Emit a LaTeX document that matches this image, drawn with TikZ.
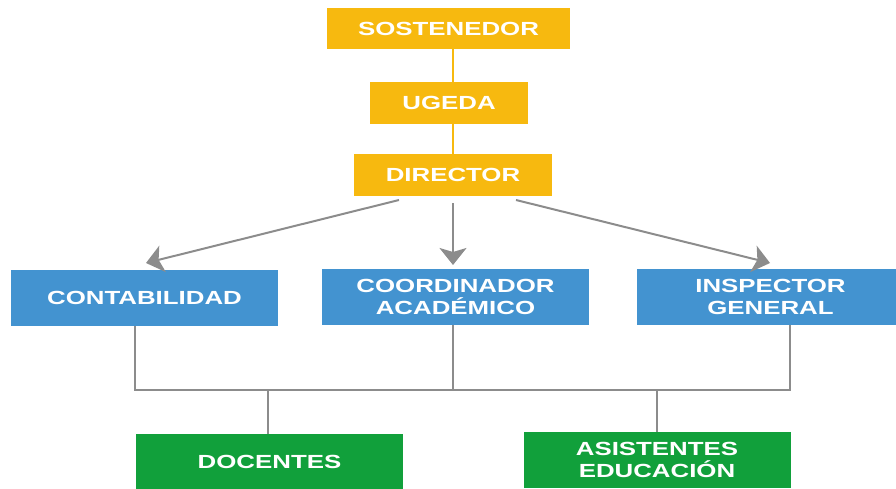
\documentclass[tikz,border=0pt]{standalone}
\usepackage{fontspec}
\setmainfont{Liberation Sans}
\newfontfamily\wideA{Liberation Sans}[FakeStretch=1.36]
\usetikzlibrary{arrows.meta}
\definecolor{ylw}{HTML}{F7B90F}
\definecolor{blu}{HTML}{4393D0}
\definecolor{grn}{HTML}{11A03B}
\definecolor{gry}{HTML}{8C8C8C}
\begin{document}
\begin{tikzpicture}[x=1pt,y=-1pt,
  box/.style={rectangle, inner sep=0pt, text=white, align=center,
    font=\wideA\bfseries\fontsize{19}{22.5}\selectfont},
  ybox/.style={box, fill=ylw},
  bbox/.style={box, fill=blu, minimum width=267pt, minimum height=56pt},
  gbox/.style={box, fill=grn, minimum width=267pt, minimum height=56pt},
  yline/.style={draw=ylw, line width=2pt},
  arr/.style={draw=gry, line width=2pt, -{Stealth[length=17pt,width=27pt,inset=4pt]}},
  bus/.style={draw=gry, line width=2.2pt}]
\useasboundingbox (0,0) rectangle (896,489);

% yellow chain
\node[ybox, minimum width=243pt, minimum height=41pt] (sost) at (448.5,28.5) {SOSTENEDOR};
\node[ybox, minimum width=158pt, minimum height=42pt] (ugeda) at (449,103) {UGEDA};
\node[ybox, minimum width=198pt, minimum height=42pt] (dir) at (453,175) {DIRECTOR};
\draw[yline] (sost.south -| dir.north) -- (ugeda.north -| dir.north);
\draw[yline] (ugeda.south -| dir.north) -- (dir.north);

% blue level
\node[bbox] (cont) at (144.5,298) {CONTABILIDAD};
\node[bbox] (coord) at (455.5,297) {COORDINADOR\\ACADÉMICO};
\node[bbox] (insp) at (770.5,297) {INSPECTOR\\GENERAL};

% arrows from director
\coordinate (sL) at (399,200);
\coordinate (sM) at (453,203);
\coordinate (sR) at (516,200);
\coordinate (tL) at (146,263);
\coordinate (tM) at (453,265);
\coordinate (tR) at (770,263);
\draw[arr] (sL) -- (tL);
\draw[arr] (sM) -- (tM);
\draw[arr] (sR) -- (tR);

% green level
\node[gbox] (doc) at (269.5,462) {DOCENTES};
\node[gbox] (asis) at (657,460) {ASISTENTES\\EDUCACIÓN};

% bus
\coordinate (bL) at (135,390);
\coordinate (bR) at (790,390);
\draw[bus] (cont.south -| bL) -- (bL) -- (bR) -- (insp.south -| bR);
\draw[bus] (coord.south -| sM) -- (sM |- bL);
\draw[bus] (doc.north -| 268,0) -- (bL -| 268,0);
\draw[bus] (asis.north) -- (asis.north |- bL);
\end{tikzpicture}
\end{document}
